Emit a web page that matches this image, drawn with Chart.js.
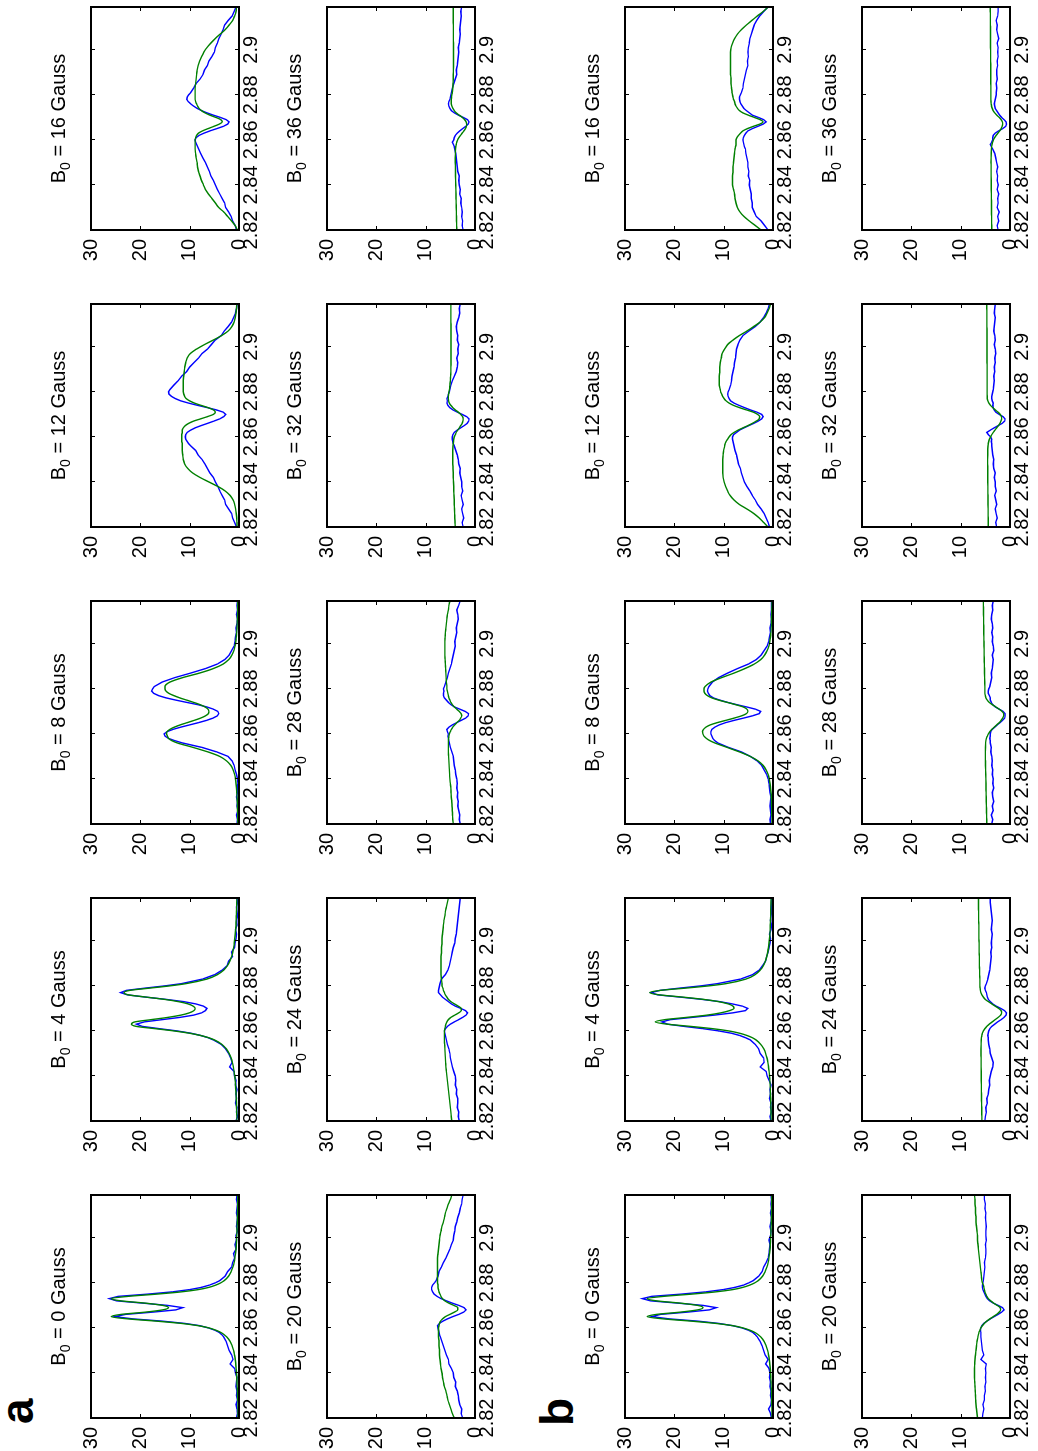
<!DOCTYPE html>
<html>
<head>
<meta charset="utf-8">
<title>ODMR spectra vs B0</title>
<script src="https://cdn.jsdelivr.net/npm/chart.js@4.4.1/dist/chart.umd.min.js"></script>
<style>
  html, body { margin: 0; padding: 0; background: #fff; overflow: hidden; }
  /* the figure is laid out landscape, then turned a quarter turn counter-clockwise */
  #fig {
    position: absolute; left: 0; top: 0;
    width: 1451px; height: 1038px;
    transform-origin: 0 0;
    transform: translate(0, 1451px) rotate(-90deg);
  }
  #fig canvas { position: absolute; }
  .tag { position: absolute; font: bold 46px "Liberation Sans", Arial, Helvetica, sans-serif; line-height: 46px; }
</style>
</head>
<body>
<div id="fig">
  <div class="tag" style="left:27px; top:-6px;">a</div>
  <div class="tag" style="left:25px; top:534px;">b</div>
</div>
<script>
// frequency grid (GHz), same for every trace
const FREQ = [
  2.820,2.822,2.824,2.826,2.828,2.830,2.832,2.834,2.836,2.838,2.840,2.842,2.844,2.846,2.848,2.850,2.852,2.854,2.856,
  2.857,2.858,2.859,2.860,2.861,2.862,2.863,2.864,2.865,2.866,2.867,2.868,2.869,2.870,2.871,2.872,2.873,2.874,2.875,2.876,2.877,2.878,2.879,2.880,2.881,
  2.883,2.885,2.887,2.889,2.891,2.893,2.895,2.897,2.899,2.901,2.903,2.905,2.907,2.909,2.911,2.913,2.915,2.917,2.919
];
const FIELDS = [0, 4, 8, 12, 16, 20, 24, 28, 32, 36];   // B0 in Gauss
const XTICKS = [2.82, 2.84, 2.86, 2.88, 2.9];
const XTICK_LABELS = ['2.82', '2.84', '2.86', '2.88', '2.9'];
const YTICKS = [0, 10, 20, 30];
const YTICK_LABELS = ['0', '10', '20', '30'];

// ---- panel a : measured (blue) and fit (green) ----
const obsA0 = [0.5,0.3,0.4,0.6,0.3,0.5,0.4,0.6,0.5,0.4,0.7,0.9,1.8,1.2,1.5,2.0,2.3,2.6,3.1,
  3.5,4.0,4.9,6.2,8.0,11.0,15.5,21.5,25.2,23.0,17.5,12.8,11.4,14.5,19.5,24.8,26.3,24.5,18.5,13.5,10.0,7.6,6.0,4.8,3.9,
  2.8,2.3,1.5,1.3,0.9,1.1,0.6,0.8,0.5,0.6,0.3,0.5,0.4,0.3,0.5,0.4,0.3,0.5,0.4];
const fitA0 = [0.2,0.2,0.2,0.2,0.25,0.3,0.33,0.38,0.41,0.45,0.5,0.58,0.66,0.76,0.91,1.1,1.4,1.8,2.5,
  3.0,3.7,4.7,6.1,8.3,11.7,16.7,22.5,25.9,23.9,19.0,15.5,14.3,15.5,19.0,23.9,25.9,22.5,16.7,11.7,8.3,6.1,4.7,3.7,3.0,
  2.1,1.6,1.25,1.0,0.83,0.71,0.62,0.55,0.5,0.45,0.42,0.38,0.35,0.32,0.3,0.28,0.26,0.25,0.24];
const obsA4 = [0.6,0.3,0.5,0.4,0.7,0.5,0.6,0.4,0.7,0.6,0.9,1.0,1.9,1.4,1.7,2.1,2.7,3.6,5.2,
  6.3,7.8,9.8,12.6,16.2,19.6,20.8,19.2,15.6,12.0,9.2,7.6,6.8,6.5,7.2,8.8,11.2,14.8,18.9,22.6,24.0,22.8,19.0,15.0,11.6,
  7.4,4.9,3.4,2.4,2.1,1.3,1.5,0.9,0.8,0.6,0.5,0.7,0.4,0.5,0.3,0.4,0.5,0.3,0.4];
const fitA4 = [0.43,0.44,0.47,0.5,0.52,0.55,0.6,0.65,0.71,0.78,0.87,0.99,1.14,1.34,1.61,2.0,2.56,3.46,5.0,
  6.2,7.85,10.1,13.2,17.0,20.8,21.8,21.1,17.8,14.4,11.8,10.1,9.15,8.9,9.3,10.35,12.3,15.1,18.8,22.4,23.3,22.1,18.1,14.0,10.7,
  6.55,4.35,3.1,2.34,1.85,1.51,1.26,1.1,0.96,0.85,0.76,0.69,0.62,0.59,0.55,0.51,0.48,0.46,0.43];
const obsA8 = [0.4,0.3,0.5,0.2,0.4,0.3,0.5,0.3,0.4,0.2,0.3,0.5,0.8,1.0,1.4,2.2,4.5,7.5,11.5,
  13.0,14.3,15.0,15.2,14.6,13.4,11.8,10.0,8.2,6.6,5.3,4.4,4.1,4.3,5.2,6.6,8.4,10.6,12.8,14.8,16.3,17.3,17.7,17.5,17.2,
  15.6,13.0,9.8,6.8,4.4,2.9,2.0,1.5,1.0,0.8,0.7,0.5,0.6,0.4,0.3,0.5,0.3,0.4,0.3];
const fitA8 = [0.23,0.25,0.27,0.29,0.31,0.35,0.39,0.45,0.51,0.6,0.72,0.9,1.2,1.65,2.5,3.9,6.3,9.3,12.5,
  13.6,14.3,14.5,14.7,14.6,14.0,13.1,11.9,10.5,9.1,7.8,6.8,6.2,6.1,6.3,6.9,7.9,9.2,10.6,12.0,13.2,14.2,14.8,15.0,15.0,
  14.0,11.4,8.0,5.2,3.2,2.1,1.45,1.05,0.82,0.66,0.56,0.48,0.42,0.37,0.33,0.3,0.28,0.26,0.24];
const obsA12 = [0.5,0.9,1.3,1.5,2.1,2.7,2.9,3.4,3.9,4.3,4.8,5.2,5.9,6.4,6.9,7.5,8.3,8.8,9.8,
  10.2,10.5,10.8,10.9,10.8,10.5,9.8,8.9,7.7,6.4,5.1,3.9,3.1,2.7,3.2,4.6,6.4,8.4,10.2,11.8,12.9,13.7,14.2,14.3,14.0,
  13.2,12.3,11.6,10.6,10.0,9.1,8.2,7.5,6.4,5.6,4.8,3.6,3.0,2.2,1.5,1.1,0.7,0.5,0.4];
const fitA12 = [0.38,0.42,0.47,0.55,0.68,0.88,1.2,1.8,2.8,4.3,6.1,7.9,9.4,10.4,11.0,11.3,11.4,11.5,11.5,
  11.5,11.6,11.6,11.6,11.6,11.5,11.5,11.3,10.9,10.2,9.2,7.8,6.4,5.2,4.8,5.2,6.3,7.7,9.0,10.0,10.7,11.0,11.2,11.3,11.3,
  11.3,11.3,11.2,11.1,11.0,10.8,10.5,9.9,8.6,7.0,5.2,3.5,2.2,1.45,1.0,0.75,0.6,0.5,0.44];
const obsA16 = [0.5,0.8,1.3,1.6,2.1,2.7,2.9,3.4,3.9,4.4,4.8,5.2,5.7,6.0,6.4,6.8,7.3,7.8,8.2,
  8.4,8.6,8.8,8.9,8.7,8.1,7.1,5.9,4.5,3.2,2.3,2.0,2.6,3.8,5.2,6.5,7.6,8.5,9.2,9.8,10.3,10.6,10.5,10.2,9.8,
  9.2,8.7,7.9,7.3,7.0,6.4,6.1,5.5,5.0,4.8,4.4,4.1,3.6,3.2,2.9,2.2,1.4,1.0,0.6];
const fitA16 = [0.3,0.8,1.5,2.3,3.1,4.1,4.8,5.5,6.2,6.8,7.2,7.6,7.9,8.2,8.4,8.5,8.7,8.8,8.9,
  8.9,8.9,8.9,8.9,8.8,8.6,8.2,7.4,6.3,5.1,4.0,3.4,3.7,4.7,5.9,6.9,7.6,8.1,8.4,8.6,8.8,8.9,8.9,8.9,8.9,
  8.9,8.8,8.7,8.6,8.5,8.3,8.0,7.6,7.1,6.5,5.7,4.8,3.8,2.8,2.0,1.3,0.9,0.6,0.5];
const obsA20 = [2.5,2.8,2.7,3.1,3.3,3.4,3.6,4.0,3.9,4.3,4.4,4.8,5.3,5.4,5.8,6.1,6.4,6.7,7.0,
  7.2,7.3,7.4,7.5,7.6,7.2,6.5,5.6,4.5,3.3,2.3,1.8,2.2,3.3,4.6,5.8,6.9,7.7,8.3,8.6,8.8,8.8,8.6,8.2,7.9,
  7.5,7.3,6.8,6.4,5.9,5.5,5.1,4.8,4.4,4.3,4.1,4.0,3.7,3.5,3.2,3.0,2.7,2.6,2.4];
const fitA20 = [4.2,4.6,4.9,5.2,5.5,5.7,5.9,6.2,6.4,6.6,6.7,6.9,7.0,7.1,7.2,7.2,7.3,7.3,7.4,
  7.4,7.4,7.4,7.4,7.3,7.2,7.0,6.6,6.0,5.1,4.2,3.5,3.5,4.3,5.3,6.1,6.6,6.9,7.1,7.3,7.4,7.5,7.5,7.6,7.6,
  7.6,7.6,7.6,7.6,7.6,7.5,7.4,7.3,7.2,7.1,6.9,6.7,6.4,6.2,6.0,5.7,5.4,5.0,4.7];
const obsA24 = [3.2,3.4,3.3,3.6,3.5,3.5,3.8,3.7,4.0,3.9,4.0,4.3,4.6,4.8,5.0,5.1,5.3,5.6,5.8,
  5.9,6.0,6.1,6.2,6.0,5.6,5.0,4.2,3.3,2.5,1.8,1.5,1.9,2.9,4.0,4.8,5.4,6.0,6.6,7.0,7.4,7.4,7.3,7.2,7.1,
  6.8,6.0,5.5,5.2,5.0,4.8,4.6,4.4,4.1,4.0,3.8,3.7,3.6,3.5,3.4,3.3,3.2,3.1,3.0];
const fitA24 = [4.7,4.8,4.9,5.0,5.1,5.2,5.3,5.4,5.5,5.6,5.7,5.8,5.9,5.95,6.0,6.05,6.1,6.15,6.2,
  6.2,6.2,6.2,6.2,6.1,6.0,5.9,5.7,5.4,4.9,4.1,3.3,2.8,2.8,3.4,4.2,4.9,5.4,5.7,6.0,6.2,6.4,6.5,6.7,6.7,
  6.8,6.9,6.9,6.9,6.9,6.9,6.8,6.8,6.7,6.7,6.6,6.5,6.4,6.3,6.1,6.0,5.8,5.6,5.4];
const obsA28 = [3.0,3.2,3.1,3.3,3.5,3.4,3.6,3.5,3.7,3.6,3.7,3.9,4.0,4.2,4.3,4.4,4.7,5.0,5.2,
  5.3,5.4,5.5,5.4,5.6,5.7,5.3,4.6,3.7,2.8,1.9,1.4,1.3,2.0,3.1,4.2,4.9,5.4,5.8,6.2,6.4,6.4,6.3,6.4,6.2,
  5.9,5.6,5.4,5.1,4.8,4.6,4.4,4.2,4.0,4.1,3.9,3.7,3.8,3.6,3.4,3.5,3.7,3.3,3.0];
const fitA28 = [4.4,4.5,4.55,4.6,4.65,4.7,4.8,4.85,4.9,5.0,5.1,5.15,5.2,5.25,5.3,5.35,5.4,5.4,5.4,
  5.4,5.35,5.3,5.2,5.0,4.8,4.5,4.1,3.7,3.2,2.9,2.7,2.8,3.2,3.7,4.2,4.6,4.9,5.1,5.3,5.4,5.5,5.6,5.7,5.7,
  5.8,5.85,5.9,5.95,6.0,6.05,6.1,6.1,6.1,6.1,6.05,6.0,5.9,5.8,5.7,5.6,5.4,5.3,5.1];
const obsA32 = [2.4,2.6,2.3,2.5,2.7,2.4,2.6,2.8,2.5,2.7,2.7,2.9,3.1,3.0,3.3,3.4,3.6,3.9,4.2,
  4.4,4.5,4.6,4.6,4.5,4.2,3.6,2.9,2.2,1.6,1.3,1.2,1.7,2.6,3.6,4.5,5.1,5.5,5.7,5.6,5.7,5.5,5.4,5.2,5.1,
  4.9,4.6,4.2,3.8,3.6,3.5,3.7,3.4,3.5,3.3,3.6,3.5,3.7,3.8,3.6,3.3,3.1,3.2,3.0];
const fitA32 = [4.0,4.05,4.1,4.12,4.15,4.2,4.22,4.25,4.3,4.32,4.35,4.4,4.42,4.45,4.5,4.5,4.5,4.5,4.45,
  4.4,4.35,4.3,4.2,4.0,3.8,3.5,3.2,2.9,2.6,2.45,2.4,2.5,2.9,3.4,4.0,4.5,4.9,5.2,5.35,5.4,5.4,5.35,5.3,5.2,
  5.1,5.0,4.95,4.9,4.9,4.85,4.85,4.85,4.85,4.85,4.85,4.85,4.85,4.85,4.9,4.9,4.9,4.9,4.9];
const obsA36 = [2.4,2.6,2.5,2.7,2.6,2.7,2.9,2.8,3.1,3.0,3.2,3.3,3.2,3.5,3.6,3.7,3.8,3.9,4.1,
  4.2,4.4,4.6,4.3,4.2,4.0,3.6,3.1,2.5,1.9,1.4,1.2,1.5,2.4,3.4,4.2,4.8,5.1,5.3,5.4,5.3,5.1,5.0,4.9,4.8,
  4.6,4.3,4.0,3.7,3.8,3.6,3.5,3.4,3.3,3.4,3.2,3.1,3.0,3.1,3.0,2.9,2.8,2.9,2.7];
const fitA36 = [3.70,3.72,3.74,3.76,3.78,3.80,3.82,3.84,3.86,3.88,3.90,3.92,3.94,3.96,3.98,4.0,4.0,3.98,3.95,
  3.9,3.8,3.7,3.5,3.25,2.95,2.6,2.25,1.95,1.75,1.7,1.8,2.1,2.6,3.2,3.8,4.2,4.5,4.7,4.8,4.8,4.8,4.75,4.7,4.6,
  4.5,4.45,4.4,4.4,4.38,4.37,4.36,4.36,4.36,4.37,4.37,4.38,4.38,4.39,4.39,4.4,4.4,4.4,4.4];

// ---- panel b ----
const obsB0 = [0.3,0.5,0.9,0.4,0.3,0.5,0.4,0.6,0.5,0.7,0.6,0.8,1.5,1.0,1.6,1.9,2.2,2.6,3.2,
  3.6,4.1,5.0,6.3,8.2,11.0,15.2,21.0,24.6,22.8,17.4,12.9,11.5,14.2,19.3,24.8,26.5,24.6,18.6,13.6,10.1,7.7,6.0,4.9,4.0,
  2.9,2.2,1.9,1.4,1.0,0.8,0.7,0.6,0.8,0.5,0.4,0.6,0.4,0.3,0.5,0.3,0.4,0.3,0.4];
const fitB0 = [0.2,0.2,0.2,0.25,0.25,0.3,0.33,0.37,0.4,0.45,0.5,0.57,0.65,0.75,0.9,1.1,1.4,1.8,2.5,
  3.0,3.7,4.7,6.1,8.2,11.6,16.5,22.2,25.5,23.6,18.8,15.3,14.2,15.3,18.8,23.6,25.5,22.2,16.5,11.6,8.2,6.1,4.7,3.7,3.0,
  2.1,1.6,1.25,1.0,0.83,0.71,0.62,0.55,0.5,0.45,0.42,0.38,0.35,0.32,0.3,0.28,0.26,0.25,0.24];
const obsB4 = [0.4,0.6,0.3,0.5,0.4,0.7,0.5,0.6,0.4,0.8,1.2,1.4,2.6,1.8,1.9,2.6,2.9,3.6,4.6,
  5.6,6.8,8.5,11.0,14.2,18.0,21.4,22.5,20.8,16.4,11.9,8.2,5.6,5.1,6.2,8.3,10.8,14.4,18.8,23.4,24.7,22.9,18.9,14.6,11.2,
  6.6,4.1,2.8,2.1,1.5,1.3,1.0,0.8,0.6,0.5,0.7,0.4,0.3,0.5,0.4,0.3,0.4,0.3,0.3];
const fitB4 = [0.37,0.38,0.41,0.42,0.45,0.47,0.51,0.54,0.58,0.63,0.7,0.79,0.9,1.03,1.22,1.48,1.87,2.47,3.45,
  4.2,5.3,6.8,9.0,12.3,16.7,21.5,23.9,21.9,17.5,13.4,10.6,8.8,7.9,8.1,9.1,11.0,14.1,18.3,23.0,25.0,22.8,17.7,13.0,9.5,
  5.5,3.6,2.6,1.94,1.53,1.26,1.06,0.91,0.8,0.71,0.64,0.58,0.55,0.51,0.48,0.46,0.43,0.41,0.39];
const obsB8 = [0.5,0.6,0.4,0.5,0.6,0.5,0.4,0.6,0.7,0.8,1.0,1.3,1.8,2.3,3.2,4.6,6.4,9.0,11.2,
  11.8,12.2,12.4,12.6,12.6,12.4,11.8,10.9,9.6,7.9,6.0,4.2,2.8,2.5,3.6,5.4,7.4,9.2,10.8,12.1,12.8,13.1,13.3,13.2,13.0,
  12.3,11.0,9.2,7.2,5.0,3.4,2.4,1.8,1.2,0.9,0.7,0.5,0.6,0.4,0.3,0.4,0.3,0.3,0.3];
const fitB8 = [0.2,0.22,0.24,0.26,0.29,0.32,0.36,0.42,0.5,0.6,0.75,1.0,1.4,2.0,3.0,4.6,6.8,9.3,11.8,
  12.8,13.5,14.0,14.2,14.3,14.1,13.6,12.7,11.3,9.6,7.9,6.4,5.4,5.1,5.3,6.1,7.6,9.3,11.0,12.4,13.3,13.8,14.0,14.0,13.8,
  12.6,10.4,7.9,5.7,3.8,2.5,1.7,1.2,0.85,0.65,0.52,0.44,0.38,0.33,0.3,0.27,0.25,0.23,0.21];
const obsB12 = [0.7,1.0,1.4,1.8,2.4,3.1,3.6,4.2,4.7,5.3,5.8,6.1,6.4,6.6,7.0,7.2,7.4,7.7,7.9,
  8.0,8.1,8.2,8.2,8.0,7.4,6.8,5.9,4.9,3.9,3.0,2.3,2.0,2.3,3.3,4.6,5.8,6.9,7.9,8.6,8.9,9.1,9.2,9.1,8.9,
  8.6,8.4,8.3,8.1,7.9,7.8,7.6,7.5,7.4,7.1,6.7,6.1,4.9,3.6,2.6,1.9,1.4,1.0,0.7];
const fitB12 = [1.0,1.9,2.8,3.9,5.3,6.8,7.9,8.7,9.2,9.6,9.9,10.1,10.2,10.2,10.2,10.2,10.1,10.0,9.8,
  9.7,9.5,9.2,8.9,8.5,7.9,7.1,6.1,5.1,4.2,3.4,2.8,2.7,3.1,4.0,5.4,6.8,8.0,8.9,9.5,9.9,10.2,10.4,10.6,10.7,
  10.9,10.9,10.9,10.8,10.8,10.7,10.5,10.3,9.8,9.2,8.1,6.8,5.3,3.9,2.6,1.7,1.2,0.8,0.5];
const obsB16 = [1.0,1.7,2.4,3.4,3.8,4.2,4.2,4.4,4.4,4.6,4.8,4.7,5.0,4.9,5.1,5.1,5.3,5.5,5.6,
  5.8,5.9,6.0,6.1,6.0,5.8,5.5,5.1,4.2,3.1,2.0,1.4,1.9,3.0,4.2,4.8,5.4,5.9,6.2,6.5,6.7,6.8,6.8,6.6,6.4,
  6.1,6.0,5.8,5.6,5.4,5.1,5.2,5.0,5.1,5.0,4.8,4.7,4.4,4.1,3.8,3.3,2.7,1.9,1.0];
const fitB16 = [2.4,3.6,4.8,5.9,6.7,7.2,7.5,7.7,7.8,8.0,8.2,8.2,8.2,8.1,8.1,8.0,7.9,7.8,7.7,
  7.6,7.5,7.5,7.5,7.3,7.0,6.6,6.1,5.2,4.0,2.7,2.0,2.6,3.8,5.0,6.1,6.8,7.2,7.5,7.7,7.8,8.0,8.1,8.2,8.3,
  8.4,8.5,8.5,8.6,8.6,8.6,8.6,8.6,8.6,8.5,8.2,7.8,7.2,6.4,5.4,4.3,3.2,2.0,1.0];
const obsB20 = [5.6,5.5,5.3,5.5,5.2,5.2,5.0,5.1,4.9,5.0,4.9,5.0,4.8,5.9,5.3,5.6,5.7,5.8,5.9,
  5.9,5.9,6.0,5.9,5.7,5.3,4.7,4.0,3.2,2.4,1.7,1.2,1.5,2.4,3.4,4.1,4.6,4.9,5.1,5.3,5.5,5.6,5.6,5.5,5.4,
  5.3,5.2,5.1,5.2,5.0,4.9,4.9,5.0,4.8,4.9,4.9,4.8,4.9,5.0,4.9,5.1,5.0,5.2,5.2];
const fitB20 = [6.6,6.7,6.8,6.9,6.95,7.0,7.05,7.1,7.15,7.2,7.2,7.2,7.15,7.1,7.0,6.9,6.8,6.7,6.5,
  6.4,6.3,6.1,5.9,5.6,5.2,4.7,4.1,3.4,2.7,2.2,1.9,2.0,2.6,3.3,3.9,4.4,4.7,4.9,5.1,5.2,5.3,5.4,5.6,5.7,
  5.8,5.9,6.0,6.1,6.2,6.3,6.4,6.5,6.6,6.6,6.7,6.8,6.9,6.9,7.0,7.0,7.1,7.1,7.2];
const obsB24 = [5.1,5.0,4.8,4.9,4.6,4.7,4.4,4.3,4.1,4.2,4.0,3.8,3.5,3.4,3.7,4.0,4.1,4.3,4.4,
  4.4,4.5,4.4,4.3,4.1,3.7,3.1,2.5,1.8,1.2,0.8,0.7,1.1,1.9,2.8,3.5,4.0,4.4,4.6,4.7,4.8,5.0,5.1,5.0,4.8,
  4.5,4.3,4.1,4.0,3.9,3.8,3.9,3.7,3.8,3.7,3.6,3.8,3.7,3.6,3.7,3.8,3.9,4.0,4.0];
const fitB24 = [5.70,5.71,5.73,5.74,5.76,5.77,5.79,5.80,5.81,5.82,5.83,5.84,5.85,5.86,5.86,5.87,5.87,5.86,5.84,
  5.8,5.7,5.6,5.4,5.1,4.7,4.2,3.6,3.0,2.4,1.9,1.7,1.8,2.3,3.0,3.7,4.4,5.0,5.4,5.7,5.9,6.0,6.05,6.1,6.1,
  6.1,6.15,6.15,6.2,6.2,6.2,6.25,6.25,6.25,6.3,6.3,6.3,6.3,6.35,6.35,6.35,6.4,6.4,6.4];
const obsB28 = [3.7,3.5,3.8,3.4,3.6,3.3,3.5,3.6,3.3,3.5,3.4,3.6,3.5,3.7,3.6,3.7,3.9,3.8,4.0,
  4.0,4.1,4.0,4.0,3.9,3.6,3.1,2.6,2.0,1.5,1.1,1.0,1.0,1.4,2.2,3.0,3.5,3.8,4.0,4.0,4.2,4.4,4.4,4.3,4.1,
  3.9,3.7,3.8,3.6,3.5,3.4,3.6,3.3,3.4,3.6,3.5,3.7,3.5,3.6,3.8,3.7,3.5,3.6,3.4];
const fitB28 = [4.70,4.72,4.74,4.76,4.78,4.80,4.82,4.84,4.86,4.88,4.90,4.92,4.94,4.96,4.98,5.0,5.0,4.98,4.94,
  4.9,4.8,4.6,4.4,4.1,3.7,3.2,2.7,2.2,1.8,1.5,1.3,1.3,1.6,2.2,2.9,3.6,4.2,4.6,4.9,5.0,5.1,5.1,5.1,5.1,
  5.12,5.14,5.16,5.18,5.2,5.22,5.24,5.25,5.26,5.28,5.3,5.31,5.32,5.34,5.35,5.36,5.38,5.39,5.4];
const obsB32 = [2.7,2.9,2.6,2.8,3.0,2.7,2.9,3.1,2.8,3.0,3.0,3.2,3.0,3.3,3.4,3.3,3.5,3.6,3.7,
  3.7,3.8,3.7,3.9,4.4,4.7,4.0,3.2,2.4,1.6,1.1,1.0,1.4,2.2,2.9,3.2,3.4,3.5,3.4,3.6,3.7,3.7,3.6,3.5,3.4,
  3.3,3.2,3.3,3.1,3.2,3.0,3.1,2.9,3.0,3.2,3.0,3.1,3.3,3.2,3.1,3.0,3.2,3.1,3.0];
const fitB32 = [4.40,4.41,4.42,4.43,4.44,4.45,4.46,4.47,4.48,4.49,4.50,4.51,4.52,4.52,4.53,4.53,4.52,4.50,4.47,
  4.4,4.3,4.15,3.95,3.7,3.4,3.05,2.7,2.35,2.05,1.85,1.7,1.75,2.0,2.45,3.0,3.5,3.95,4.3,4.5,4.6,4.62,4.63,4.63,4.63,
  4.63,4.63,4.64,4.64,4.64,4.65,4.65,4.65,4.66,4.66,4.66,4.67,4.67,4.68,4.68,4.69,4.69,4.7,4.7];
const obsB36 = [2.4,2.6,2.3,2.5,2.2,2.6,2.4,2.5,2.3,2.6,2.4,2.6,2.5,2.7,2.5,2.7,2.9,3.1,3.5,
  3.8,4.0,3.7,3.5,3.5,3.4,3.0,2.3,1.5,0.9,0.7,0.8,1.2,1.7,2.1,2.4,2.7,3.0,3.1,3.2,3.1,3.0,2.9,2.8,2.8,
  2.7,2.8,2.6,2.7,2.7,2.5,2.6,2.4,2.5,2.4,2.6,2.3,2.5,2.7,2.6,2.8,2.5,2.4,2.4];
const fitB36 = [3.70,3.71,3.72,3.73,3.74,3.75,3.76,3.77,3.78,3.79,3.80,3.81,3.82,3.83,3.83,3.84,3.83,3.81,3.77,
  3.72,3.64,3.52,3.35,3.1,2.8,2.45,2.1,1.8,1.6,1.5,1.55,1.8,2.2,2.7,3.1,3.4,3.6,3.75,3.82,3.86,3.88,3.88,3.88,3.88,
  3.88,3.89,3.89,3.9,3.9,3.91,3.92,3.92,3.93,3.94,3.94,3.95,3.96,3.96,3.97,3.98,3.98,3.99,4.0];

const OBS = { a: [obsA0, obsA4, obsA8, obsA12, obsA16, obsA20, obsA24, obsA28, obsA32, obsA36],
              b: [obsB0, obsB4, obsB8, obsB12, obsB16, obsB20, obsB24, obsB28, obsB32, obsB36] };
const FIT = { a: [fitA0, fitA4, fitA8, fitA12, fitA16, fitA20, fitA24, fitA28, fitA32, fitA36],
              b: [fitB0, fitB4, fitB8, fitB12, fitB16, fitB20, fitB24, fitB28, fitB32, fitB36] };

// layout (landscape coordinates, before the rotation)
const FONT = '"Liberation Sans", Arial, Helvetica, sans-serif';
const BOX_W = 223, BOX_H = 148;
const M_LEFT = 40, M_TOP = 70, M_RIGHT = 20, M_BOTTOM = 30;
const COL_X = [33, 330, 627, 924, 1221];
const ROW_Y = { a: [91, 327], b: [625, 862] };
const TICK_LEN = 4;

Chart.defaults.font.family = FONT;
Chart.defaults.font.size = 20;
Chart.defaults.color = '#000';

// box round the plot with small inward ticks on all four sides
const frame = {
  id: 'frame',
  afterDatasetsDraw(chart) {
    const { ctx, chartArea: a, scales: { x, y } } = chart;
    ctx.save();
    ctx.strokeStyle = '#000';
    ctx.lineWidth = 1;
    ctx.beginPath();
    XTICKS.forEach(v => {
      const px = Math.round(x.getPixelForValue(v)) + 0.5;
      ctx.moveTo(px, a.bottom); ctx.lineTo(px, a.bottom - TICK_LEN);
      ctx.moveTo(px, a.top); ctx.lineTo(px, a.top + TICK_LEN);
    });
    YTICKS.forEach(v => {
      const py = Math.round(y.getPixelForValue(v)) + 0.5;
      ctx.moveTo(a.left, py); ctx.lineTo(a.left + TICK_LEN, py);
      ctx.moveTo(a.right, py); ctx.lineTo(a.right - TICK_LEN, py);
    });
    ctx.stroke();
    ctx.lineWidth = 2;
    ctx.strokeRect(a.left, a.top, a.right - a.left, a.bottom - a.top);
    ctx.restore();
  }
};

// "B0 = n Gauss" with the 0 as a subscript
const panelTitle = {
  id: 'panelTitle',
  afterDraw(chart, args, opts) {
    const { ctx, chartArea: a } = chart;
    const rest = ' = ' + opts.field + ' Gauss';
    ctx.save();
    ctx.fillStyle = '#000';
    ctx.textBaseline = 'alphabetic';
    ctx.font = '20px ' + FONT;
    const wB = ctx.measureText('B').width, wR = ctx.measureText(rest).width;
    ctx.font = '14px ' + FONT;
    const wS = ctx.measureText('0').width;
    let x = (a.left + a.right) / 2 - (wB + wS + wR) / 2;
    const y = a.top - 26;
    ctx.font = '20px ' + FONT; ctx.fillText('B', x, y); x += wB;
    ctx.font = '14px ' + FONT; ctx.fillText('0', x, y + 5); x += wS;
    ctx.font = '20px ' + FONT; ctx.fillText(rest, x, y);
    ctx.restore();
  }
};

function pts(vals) {
  return FREQ.map((f, i) => ({ x: f, y: vals[i] }));
}

function fixPadding(s) {
  s.paddingLeft = s.paddingRight = s.paddingTop = s.paddingBottom = 0;
}

const fig = document.getElementById('fig');

function makePanel(group, i) {
  const left = COL_X[i % 5];
  const top = ROW_Y[group][Math.floor(i / 5)];
  const cv = document.createElement('canvas');
  cv.width = M_LEFT + BOX_W + M_RIGHT;
  cv.height = M_TOP + BOX_H + M_BOTTOM;
  cv.style.left = (left - M_LEFT) + 'px';
  cv.style.top = (top - M_TOP) + 'px';
  fig.appendChild(cv);

  new Chart(cv, {
    type: 'line',
    data: {
      datasets: [
        { label: 'fit', data: pts(FIT[group][i]), borderColor: '#008000', borderWidth: 1.4,
          pointRadius: 0, cubicInterpolationMode: 'monotone', fill: false },
        { label: 'measured', data: pts(OBS[group][i]), borderColor: '#0000ff', borderWidth: 1.4,
          pointRadius: 0, tension: 0, fill: false }
      ]
    },
    options: {
      responsive: false,
      animation: false,
      devicePixelRatio: 1,
      events: [],
      layout: { autoPadding: false, padding: { top: M_TOP, right: M_RIGHT, left: 0, bottom: 0 } },
      plugins: {
        legend: { display: false },
        tooltip: { enabled: false },
        panelTitle: { field: FIELDS[i] }
      },
      scales: {
        x: {
          type: 'linear', min: 2.82, max: 2.919,
          grid: { display: false, drawTicks: false }, border: { display: false },
          ticks: { autoSkip: false, maxRotation: 0, minRotation: 0, padding: 0,
                   callback: (v, idx) => XTICK_LABELS[idx] },
          afterBuildTicks: s => { s.ticks = XTICKS.map(v => ({ value: v })); },
          afterFit: s => { s.height = M_BOTTOM; fixPadding(s); }
        },
        y: {
          type: 'linear', min: 0, max: 30,
          grid: { display: false, drawTicks: false }, border: { display: false },
          ticks: { autoSkip: false, padding: 9, callback: (v, idx) => YTICK_LABELS[idx] },
          afterBuildTicks: s => { s.ticks = YTICKS.map(v => ({ value: v })); },
          afterFit: s => { s.width = M_LEFT; fixPadding(s); }
        }
      }
    },
    plugins: [frame, panelTitle]
  });
}

['a', 'b'].forEach(g => FIELDS.forEach((f, i) => makePanel(g, i)));
</script>
</body>
</html>
